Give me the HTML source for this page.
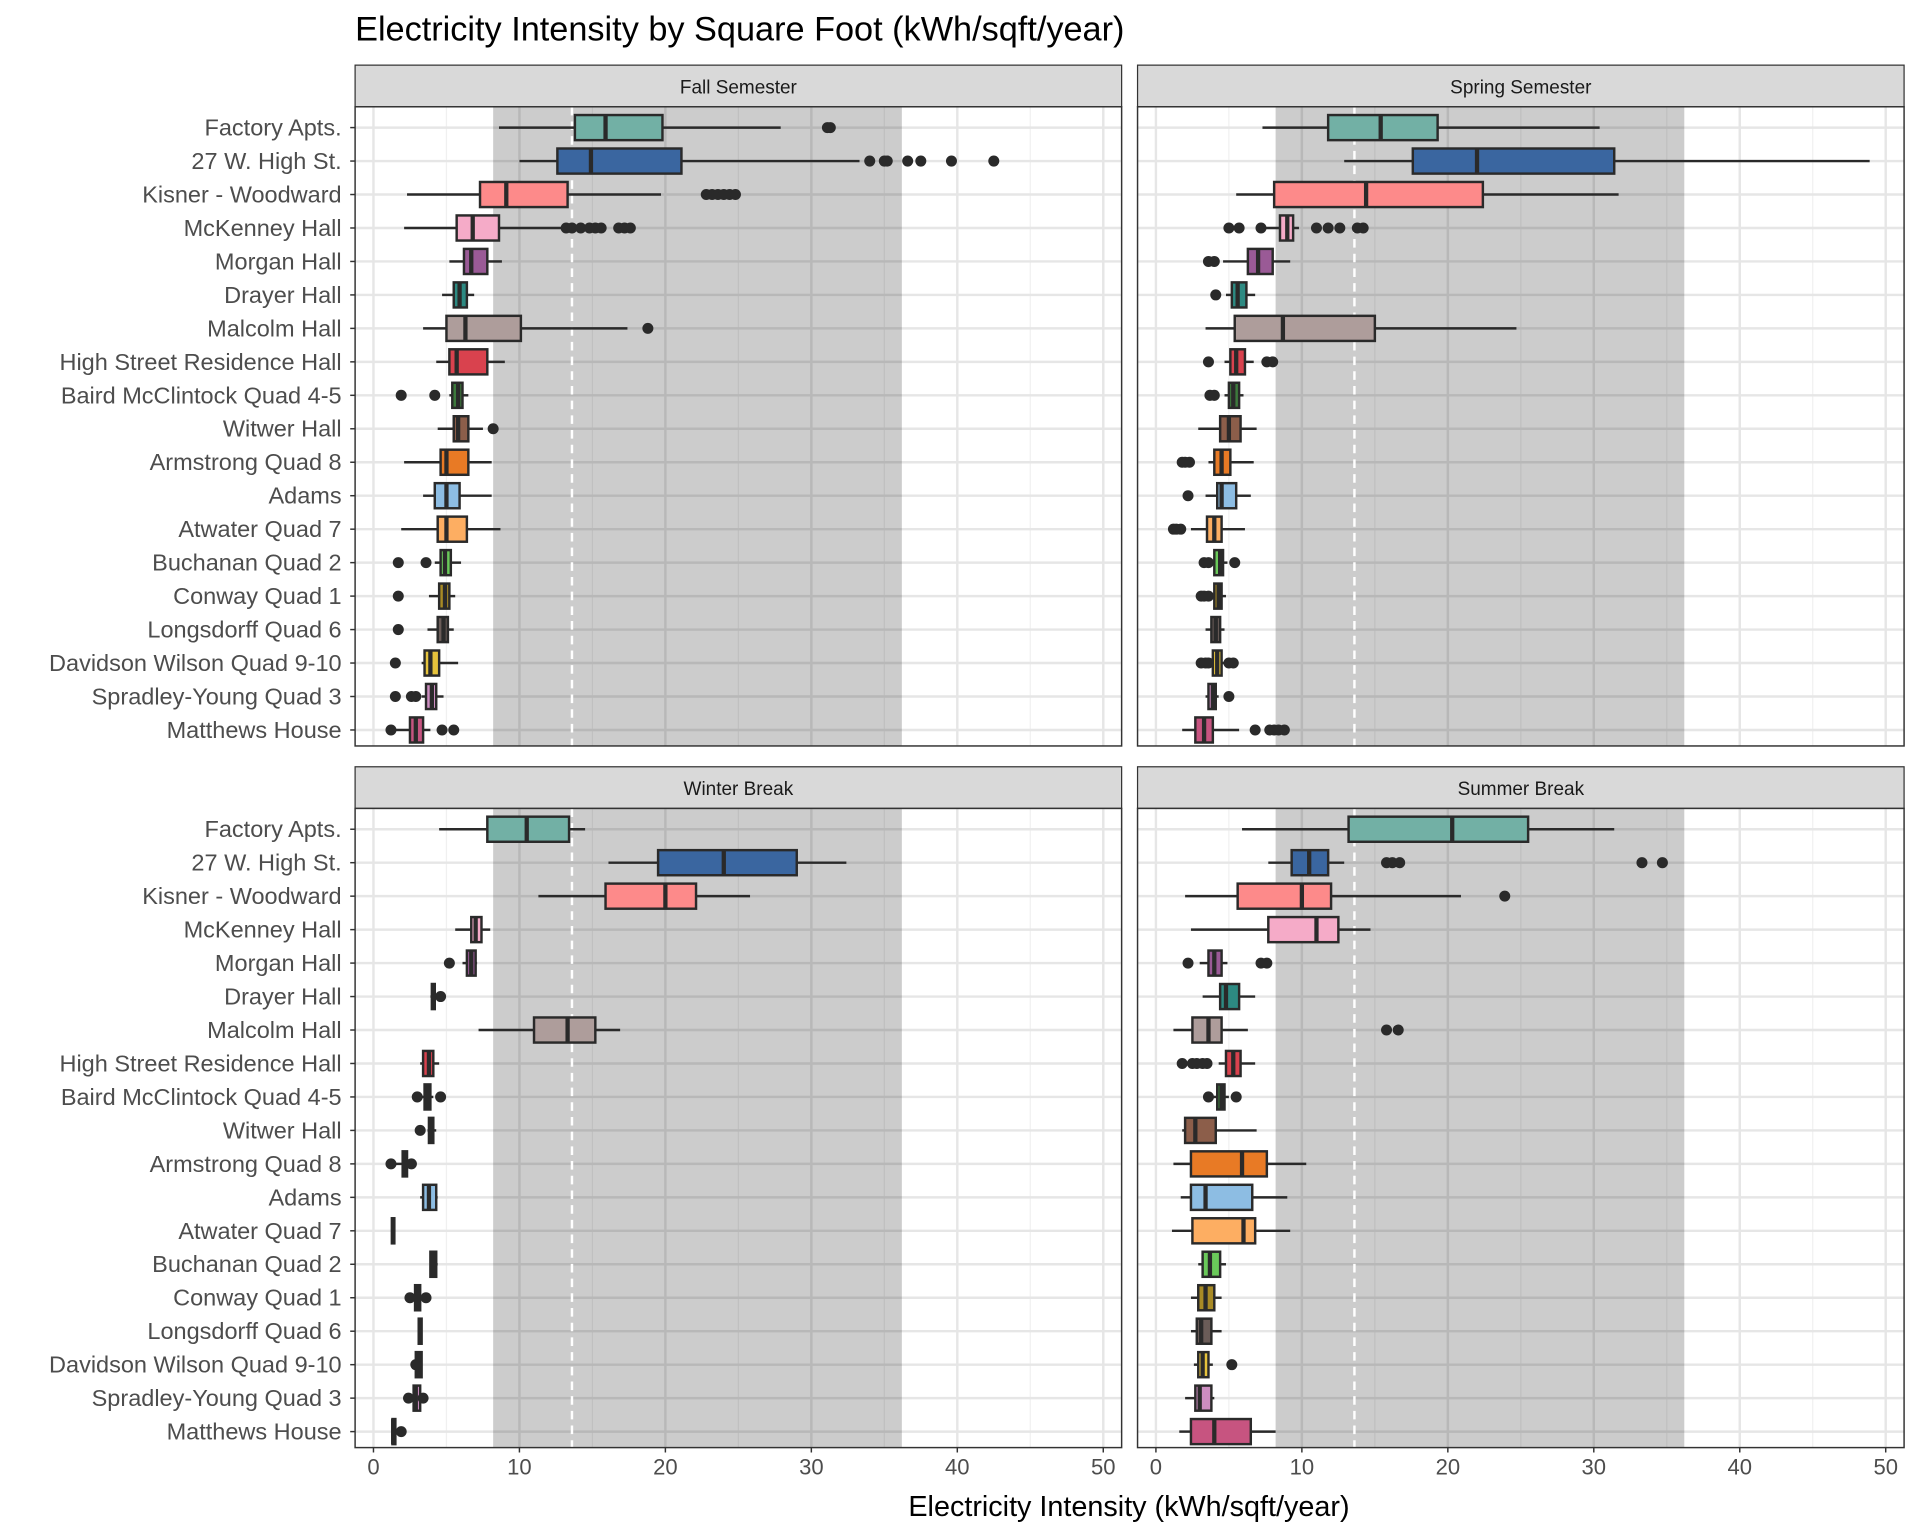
<!DOCTYPE html>
<html><head><meta charset="utf-8"><style>
html,body{margin:0;padding:0;background:#fff;}
svg{display:block;font-family:"Liberation Sans",Arial,sans-serif;}
</style></head><body>
<svg id="chart" width="1920" height="1536" viewBox="0 0 1568 1254" xmlns="http://www.w3.org/2000/svg">
<text x="290" y="33" font-size="28" fill="#000">Electricity Intensity by Square Foot (kWh/sqft/year)</text>
<text x="922" y="1238" font-size="23.5" text-anchor="middle" fill="#000">Electricity Intensity (kWh/sqft/year)</text>
<g id="panels"></g>
</svg>
<script>
const buildings = ["Factory Apts.","27 W. High St.","Kisner - Woodward","McKenney Hall","Morgan Hall","Drayer Hall","Malcolm Hall","High Street Residence Hall","Baird McClintock Quad 4-5","Witwer Hall","Armstrong Quad 8","Adams","Atwater Quad 7","Buchanan Quad 2","Conway Quad 1","Longsdorff Quad 6","Davidson Wilson Quad 9-10","Spradley-Young  Quad 3","Matthews House"];
const fillColors = ["#72b0a5","#3a66a0","#fd8a8a","#f5abc8","#9a5a96","#2d8a82","#ae9d9b","#d9424e","#3d7a3c","#8c5e4a","#e87a25","#8dbde3","#fdae62","#6ac95a","#a88a25","#6a5c58","#e6c33c","#cc8dc0","#c75480"];
const xTicks = [0,10,20,30,40,50];
const bandRange = [8.2,36.2];
const refLine = 13.6;
// [low whisker, q1, median, q3, high whisker]
const fallStats = [[8.6,13.8,15.9,19.8,27.9],[10.0,12.6,14.9,21.1,33.3],[2.3,7.3,9.1,13.3,19.7],[2.1,5.7,6.8,8.6,13.0],[5.2,6.2,6.7,7.8,8.8],[4.7,5.5,5.9,6.4,6.9],[3.4,5.0,6.3,10.1,17.4],[4.3,5.2,5.7,7.8,9.0],[5.2,5.4,5.8,6.1,6.5],[4.4,5.5,5.8,6.5,7.5],[2.1,4.6,5.0,6.5,8.1],[3.4,4.2,5.0,5.9,8.1],[1.9,4.4,5.0,6.4,8.7],[4.2,4.6,4.9,5.3,6.0],[3.8,4.5,4.9,5.2,5.6],[3.7,4.4,4.8,5.1,5.5],[3.3,3.5,3.9,4.5,5.8],[3.3,3.6,4.0,4.3,4.8],[1.5,2.5,2.9,3.4,3.9]];
const fallOut = [[31.1,31.3],[34,35,35.2,36.6,37.5,39.6,42.5],[22.8,23.2,23.6,24,24.4,24.8],[13.2,13.6,14.2,14.8,15.2,15.6,16.8,17.2,17.6],[],[],[18.8],[],[1.9,4.2],[8.2],[],[],[],[1.7,3.6],[1.7],[1.7],[1.5],[1.5,2.6,2.9],[1.2,4.7,5.5]];
const springStats = [[7.3,11.8,15.4,19.3,30.4],[12.9,17.6,22.0,31.4,48.9],[5.5,8.1,14.4,22.4,31.7],[7.1,8.5,9.0,9.4,9.8],[4.6,6.3,7.0,8.0,9.2],[4.8,5.2,5.6,6.2,6.8],[3.4,5.4,8.7,15.0,24.7],[4.7,5.1,5.5,6.1,6.7],[4.7,5.0,5.3,5.7,6.0],[2.9,4.4,5.0,5.8,6.9],[3.6,4.0,4.5,5.1,6.7],[3.4,4.2,4.5,5.5,6.5],[2.4,3.5,4.0,4.5,6.1],[3.8,4.0,4.4,4.6,4.9],[3.5,4.0,4.3,4.5,4.8],[3.4,3.8,4.1,4.4,4.7],[3.8,3.9,4.2,4.5,4.8],[3.4,3.6,3.9,4.1,4.3],[1.8,2.7,3.3,3.9,5.7]];
const springOut = [[],[],[],[5.0,5.7,7.2,11,11.8,12.6,13.8,14.2],[3.6,4.0],[4.1],[],[3.6,7.6,8.0],[3.7,4.0],[],[1.8,2.0,2.3],[2.2],[1.2,1.4,1.7],[3.3,3.6,5.4],[3.1,3.3,3.6],[],[3.1,3.4,3.6,5.0,5.3],[5.0],[6.8,7.8,8.1,8.4,8.8]];
const winterStats = [[4.5,7.8,10.5,13.4,14.5],[16.1,19.5,24.0,29.0,32.4],[11.3,15.9,20.0,22.1,25.8],[5.6,6.7,7.0,7.4,8.0],[6.1,6.4,6.7,7.0,7.1],[3.9,4.0,4.1,4.2,4.3],[7.2,11.0,13.3,15.2,16.9],[3.2,3.4,3.8,4.1,4.5],[3.1,3.5,3.7,3.9,4.1],[3.7,3.8,3.9,4.1,4.3],[1.4,2.0,2.2,2.3,2.6],[3.2,3.4,3.8,4.3,4.4],[1.2,1.26,1.35,1.43,1.5],[3.9,3.9,4.1,4.3,4.4],[2.4,2.85,3.0,3.2,3.5],[3.05,3.1,3.2,3.3,3.35],[2.85,2.9,3.1,3.3,3.35],[2.4,2.75,2.9,3.2,3.45],[1.25,1.3,1.35,1.5,1.55]];
const winterOut = [[],[],[],[],[5.2],[4.6],[],[],[3.0,4.6],[3.2],[1.2,2.6],[],[],[],[2.5,3.6],[],[2.9],[2.4,3.4],[1.9]];
const summerStats = [[5.9,13.2,20.3,25.5,31.4],[7.7,9.3,10.5,11.8,12.9],[2.0,5.6,10.0,12.0,20.9],[2.4,7.7,11.0,12.5,14.7],[3.0,3.6,4.0,4.5,4.9],[3.2,4.4,4.8,5.7,6.8],[1.2,2.5,3.6,4.5,6.3],[4.3,4.8,5.3,5.8,6.8],[3.8,4.2,4.5,4.7,5.0],[1.8,2.0,2.7,4.1,6.9],[1.2,2.4,5.9,7.6,10.3],[1.7,2.4,3.4,6.6,9.0],[1.1,2.5,6.0,6.8,9.2],[2.9,3.2,3.7,4.4,4.8],[2.4,2.9,3.4,4.0,4.5],[2.4,2.8,3.1,3.8,4.5],[2.6,2.9,3.2,3.6,3.9],[2.0,2.7,3.0,3.8,4.0],[1.6,2.4,4.0,6.5,8.2]];
const summerOut = [[],[15.8,16.2,16.7,33.3,34.7],[23.9],[],[2.2,7.2,7.6],[],[15.8,16.6],[1.8,2.5,2.8,3.2,3.5],[3.6,5.5],[],[],[],[],[],[],[],[5.2],[],[]];

const NS="http://www.w3.org/2000/svg";
const root=document.getElementById('panels');
function el(tag,attrs,parent){const e=document.createElementNS(NS,tag);for(const k in attrs)e.setAttribute(k,attrs[k]);(parent||root).appendChild(e);return e;}
const panels=[
 {title:"Fall Semester",x0:290,y0:87,stats:fallStats,out:fallOut,left:true,bottom:false,key:"fall"},
 {title:"Spring Semester",x0:929,y0:87,stats:springStats,out:springOut,left:false,bottom:false,key:"spring"},
 {title:"Winter Break",x0:290,y0:660,stats:winterStats,out:winterOut,left:true,bottom:true,key:"winter"},
 {title:"Summer Break",x0:929,y0:660,stats:summerStats,out:summerOut,left:false,bottom:true,key:"summer"}];
const W=626,H=522,stripH=34;
panels.forEach(p=>{
 const g=el('g',{});
 
 
 const xs=v=>p.x0+15+v*11.92;
 const step=27.33;
 const ys=i=>p.y0+17+i*step;
 const x1=p.x0+W,y1=p.y0+H;
 const strip=el('rect',{x:p.x0,y:p.y0-stripH,width:W,height:stripH,fill:'#d9d9d9',stroke:'#333','stroke-width':1},g);
 
 
 const st=el('text',{x:p.x0+W/2,y:p.y0-11,'font-size':15.5,'text-anchor':'middle',fill:'#1a1a1a'},g);
 st.textContent=p.title;
 
 
 for(let v=5;v<=50;v+=10) el('line',{x1:xs(v),x2:xs(v),y1:p.y0,y2:y1,stroke:'#f0f0f0','stroke-width':1},g);
 xTicks.forEach(v=>el('line',{x1:xs(v),x2:xs(v),y1:p.y0,y2:y1,stroke:'#e6e6e6','stroke-width':2},g));
 buildings.forEach((b,i)=>el('line',{x1:p.x0,x2:x1,y1:ys(i),y2:ys(i),stroke:'#e6e6e6','stroke-width':2},g));
 const band=el('rect',{x:xs(bandRange[0]),y:p.y0,width:xs(bandRange[1])-xs(bandRange[0]),height:H,fill:'#000','fill-opacity':0.2},g);
 
 
 const rl=el('line',{x1:xs(refLine),x2:xs(refLine),y1:p.y0,y2:y1,stroke:'#fff','stroke-width':2,'stroke-dasharray':'7,5'},g);
 
 
 const bh=step*0.75;
 p.stats.forEach((s,i)=>{
  const y=ys(i);
  const bg=el('g',{},g);
  
  
  el('line',{x1:xs(s[0]),x2:xs(s[1]),y1:y,y2:y,stroke:'#2a2a2a','stroke-width':2},bg);
  el('line',{x1:xs(s[3]),x2:xs(s[4]),y1:y,y2:y,stroke:'#2a2a2a','stroke-width':2},bg);
  el('rect',{x:xs(s[1]),y:y-bh/2,width:Math.max(xs(s[3])-xs(s[1]),0.5),height:bh,fill:fillColors[i],stroke:'#2a2a2a','stroke-width':2},bg);
  el('line',{x1:xs(s[2]),x2:xs(s[2]),y1:y-bh/2,y2:y+bh/2,stroke:'#2a2a2a','stroke-width':3.5},bg);
  p.out[i].forEach(o=>{
   const c=el('circle',{cx:xs(o),cy:y,r:4.5,fill:'#2a2a2a'},bg);
   
   
  });
 });
 el('rect',{x:p.x0,y:p.y0,width:W,height:H,fill:'none',stroke:'#333','stroke-width':1.2},g);
 if(p.left){
  buildings.forEach((b,i)=>{
   el('line',{x1:p.x0-4,x2:p.x0,y1:ys(i),y2:ys(i),stroke:'#333','stroke-width':1.2},g);
   const t=el('text',{x:p.x0-11,y:ys(i)+6.5,'font-size':19.2,'text-anchor':'end',fill:'#4d4d4d'},g);
   t.textContent=b;
   
   
  });
 }
 if(p.bottom){
  xTicks.forEach(v=>{
   el('line',{x1:xs(v),x2:xs(v),y1:y1,y2:y1+4,stroke:'#333','stroke-width':1.2},g);
   const t=el('text',{x:xs(v),y:y1+22,'font-size':18,'text-anchor':'middle',fill:'#4d4d4d'},g);
   t.textContent=v;
   
   
  });
 }
});
</script>
</body></html>
